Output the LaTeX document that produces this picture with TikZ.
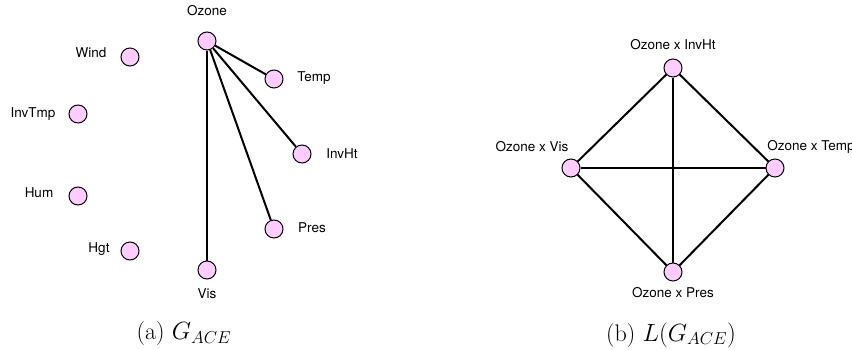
\documentclass[tikz,border=0pt]{standalone}
\usepackage{fontspec}
\setsansfont{TeX Gyre Heros}
\begin{document}
\begin{tikzpicture}[x=1pt,y=-1pt,
  vert/.style={circle,draw=black,line width=1pt,fill=vpink,minimum size=18pt,inner sep=0pt},
  lab/.style={font=\sffamily\fontsize{13.5}{16}\selectfont,inner sep=0pt},
  captext/.style={font=\fontsize{24}{28}\selectfont,inner sep=0pt},
  edge/.style={line width=2pt,black}]
\definecolor{vpink}{RGB}{255,204,255}
\useasboundingbox (0,0) rectangle (852,349);

% ---- (a) the graph G_ACE ----
\node[vert] (oz)  at (207,41)  {};
\node[vert] (wi)  at (130,57)  {};
\node[vert] (te)  at (274,79)  {};
\node[vert] (it)  at (78,114)  {};
\node[vert] (ih)  at (302,154) {};
\node[vert] (hu)  at (78,196)  {};
\node[vert] (pr)  at (274,229) {};
\node[vert] (hg)  at (130,251) {};
\node[vert] (vi)  at (207,270) {};

\node[lab] (ozl) at (207,11)  {Ozone};
\node[lab] (wil) at (91,53)   {Wind};
\node[lab] (tel) at (314,78)  {Temp};
\node[lab] (itl) at (33,114)  {InvTmp};
\node[lab] (ihl) at (342,154) {InvHt};
\node[lab] (hul) at (39,193)  {Hum};
\node[lab] (prl) at (312,228) {Pres};
\node[lab] (hgl) at (99,249)  {Hgt};
\node[lab] (vil) at (207,294) {Vis};

\draw[edge] (oz) -- (te);
\draw[edge] (oz) -- (ih);
\draw[edge] (oz) -- (pr);
\draw[edge] (oz) -- (vi);

\node[captext] (capa) at (184,334) {(a) $G_{ACE}$};

% ---- (b) the line graph L(G_ACE) ----
\node[vert] (lt) at (673,68)  {};
\node[vert] (ll) at (571,168) {};
\node[vert] (lr) at (775,168) {};
\node[vert] (lb) at (673,272) {};

\node[lab] (ltl) at (673,45)  {Ozone x InvHt};
\node[lab] (lll) at (532,147) {Ozone x Vis};
\node[lab] (lrl) at (811,147) {Ozone x Temp};
\node[lab] (lbl) at (673,293) {Ozone x Pres};

\draw[edge] (lt) -- (ll);
\draw[edge] (lt) -- (lr);
\draw[edge] (lt) -- (lb);
\draw[edge] (ll) -- (lr);
\draw[edge] (ll) -- (lb);
\draw[edge] (lr) -- (lb);

\node[captext] (capb) at (671,335) {(b) $L(G_{ACE})$};
\end{tikzpicture}
\end{document}
